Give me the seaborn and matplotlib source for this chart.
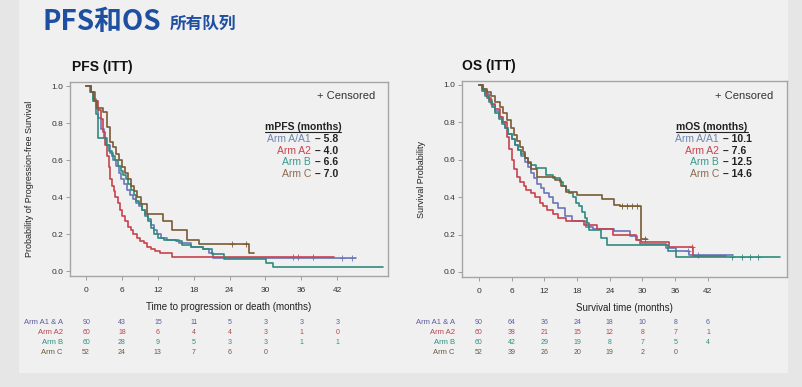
import numpy as np
import pandas as pd
import seaborn as sns
import matplotlib.pyplot as plt
from matplotlib.lines import Line2D
from matplotlib.patches import Rectangle
from matplotlib import transforms

# Arms and colours
arms = ["Arm A/A1", "Arm A2", "Arm B", "Arm C"]
risk_labels = ["Arm A1 & A", "Arm A2", "Arm B", "Arm C"]
line_colors = ["#6a76b8", "#c8434f", "#2e8b7e", "#7a5b34"]
text_colors = ["#6d86b2", "#c8434f", "#3a9a8e", "#8a6a50"]
risk_colors = ["#5c5c9c", "#b84450", "#2f8f80", "#6b5a3a"]

# PFS step curves (time in months, survival)
pfs_t_a = [0, 0.8, 1.2, 1.6, 2.0, 2.5, 3.0, 3.5, 4.0, 4.5, 5.0, 5.5, 5.8, 6.3, 6.8, 7.3,
           7.8, 8.3, 8.8, 9.3, 9.8, 10.3, 10.8, 11.3, 11.8, 12.5, 13.5, 15.6, 17.5, 19.6,
           20.5, 21.3, 45.2]
pfs_s_a = [1.0, 0.97, 0.93, 0.88, 0.83, 0.77, 0.72, 0.68, 0.64, 0.60, 0.57, 0.53, 0.50,
           0.47, 0.44, 0.41, 0.39, 0.37, 0.35, 0.33, 0.31, 0.28, 0.25, 0.22, 0.20, 0.18,
           0.17, 0.15, 0.13, 0.12, 0.10, 0.072, 0.072]
pfs_t_a2 = [0, 0.8, 1.5, 2.0, 2.5, 2.9, 3.2, 3.5, 3.8, 4.0, 4.3, 4.6, 4.9, 5.3, 5.7, 6.0,
            6.5, 7.0, 7.5, 7.9, 8.5, 9.0, 9.6, 10.2, 10.9, 11.6, 12.4, 14.3, 41.5]
pfs_s_a2 = [1.0, 0.97, 0.92, 0.87, 0.82, 0.75, 0.68, 0.62, 0.56, 0.50, 0.46, 0.43, 0.40,
            0.37, 0.33, 0.30, 0.27, 0.24, 0.22, 0.20, 0.18, 0.16, 0.15, 0.13, 0.12, 0.11,
            0.10, 0.077, 0.077]
pfs_t_b = [0, 0.7, 1.2, 1.6, 2.0, 3.3, 3.8, 4.3, 4.8, 5.3, 5.8, 6.2, 6.6, 7.0, 7.5, 8.0,
           8.4, 8.9, 9.4, 9.9, 10.4, 10.9, 11.4, 12.0, 13.0, 15.0, 16.0, 17.5, 19.5, 21.0,
           23.0, 30.1, 31.3, 49.6]
pfs_s_b = [1.0, 0.97, 0.92, 0.85, 0.72, 0.68, 0.65, 0.62, 0.60, 0.57, 0.54, 0.52, 0.50,
           0.47, 0.44, 0.41, 0.38, 0.36, 0.33, 0.30, 0.27, 0.23, 0.20, 0.18, 0.17, 0.16,
           0.14, 0.13, 0.12, 0.09, 0.065, 0.045, 0.023, 0.023]
pfs_t_c = [0, 0.8, 1.3, 1.8, 2.9, 3.5, 4.0, 4.5, 5.0, 5.5, 6.0, 6.5, 7.0, 7.5, 8.0, 8.5,
           9.2, 10.2, 12.9, 14.3, 16.9, 18.8, 27.3, 28.1]
pfs_s_c = [1.0, 0.97, 0.92, 0.88, 0.86, 0.78, 0.70, 0.67, 0.63, 0.60, 0.56, 0.53, 0.50,
           0.46, 0.43, 0.40, 0.36, 0.31, 0.27, 0.22, 0.17, 0.146, 0.10, 0.10]

# OS step curves
os_t_a = [0, 0.6, 1.2, 1.8, 2.4, 3.0, 3.6, 4.2, 4.8, 5.4, 6.0, 6.6, 7.2, 7.8, 8.4, 9.0,
          9.5, 10.1, 10.7, 11.3, 12.0, 12.8, 13.5, 14.5, 15.7, 17.0, 19.6, 21.0, 24.7,
          27.8, 29.0, 29.5, 34.4, 36.2, 38.5, 46.6]
os_s_a = [1.0, 0.98, 0.95, 0.92, 0.89, 0.86, 0.83, 0.80, 0.77, 0.74, 0.71, 0.68, 0.65,
          0.62, 0.59, 0.56, 0.53, 0.50, 0.47, 0.45, 0.42, 0.40, 0.37, 0.34, 0.30, 0.27,
          0.24, 0.23, 0.22, 0.19, 0.17, 0.15, 0.13, 0.11, 0.09, 0.09]
os_t_a2 = [0, 0.8, 1.5, 2.2, 3.0, 3.8, 4.5, 5.1, 5.5, 6.0, 6.5, 6.9, 7.6, 8.2, 8.7, 9.5,
           10.3, 11.2, 11.8, 12.4, 13.5, 14.5, 16.0, 19.3, 21.6, 24.6, 28.9, 29.7, 34.9,
           39.2, 45.4]
os_s_a2 = [1.0, 0.97, 0.93, 0.90, 0.87, 0.83, 0.80, 0.72, 0.66, 0.60, 0.55, 0.51, 0.48,
           0.46, 0.44, 0.42, 0.40, 0.37, 0.35, 0.33, 0.31, 0.29, 0.27, 0.25, 0.23, 0.20,
           0.17, 0.16, 0.135, 0.087, 0.087]
os_t_b = [0, 0.6, 1.2, 1.8, 2.4, 3.0, 3.6, 4.2, 4.8, 5.4, 6.0, 6.6, 7.2, 7.8, 8.4, 9.0,
          9.6, 10.4, 12.3, 13.5, 14.8, 15.5, 16.0, 16.6, 17.2, 17.8, 18.4, 18.9, 19.4,
          19.8, 20.2, 22.3, 23.5, 34.6, 36.2, 55.2]
os_s_b = [1.0, 0.97, 0.94, 0.91, 0.88, 0.85, 0.82, 0.79, 0.77, 0.74, 0.71, 0.68, 0.65,
          0.63, 0.61, 0.59, 0.57, 0.555, 0.52, 0.50, 0.48, 0.46, 0.44, 0.42, 0.40, 0.37,
          0.35, 0.32, 0.29, 0.26, 0.225, 0.18, 0.145, 0.11, 0.082, 0.082]
os_t_c = [0, 0.8, 1.5, 2.2, 3.0, 3.8, 4.5, 5.2, 5.9, 6.5, 7.0, 7.5, 8.0, 8.5, 9.0, 9.6,
          10.6, 13.9, 15.1, 16.0, 17.9, 22.5, 24.7, 25.8, 29.7, 30.8]
os_s_c = [1.0, 0.98, 0.96, 0.94, 0.91, 0.88, 0.85, 0.81, 0.77, 0.73, 0.70, 0.67, 0.64,
          0.61, 0.58, 0.55, 0.51, 0.49, 0.46, 0.43, 0.41, 0.39, 0.36, 0.35, 0.176, 0.176]

# Censor times
pfs_cens = [[42.8, 44.5], [34.6, 35.5, 38.0], [], [24.4, 26.8]]
os_cens = [[38.4, 40.2], [39.0], [46.4, 48.2, 49.7, 51.2], [26.2, 27.1, 28.0, 29.0, 30.5]]

# Medians
pfs_median = ["5.8", "4.0", "6.6", "7.0"]
os_median = ["10.1", "7.6", "12.5", "14.6"]

# Number at risk
time_ticks = [0, 6, 12, 18, 24, 30, 36, 42]
pfs_risk = [[90, 43, 15, 11, 5, 3, 3, 3],
            [60, 18, 6, 4, 4, 3, 1, 0],
            [60, 28, 9, 5, 3, 3, 1, 1],
            [52, 24, 13, 7, 6, 0]]
os_risk = [[90, 64, 36, 24, 18, 10, 8, 6],
           [60, 38, 21, 15, 12, 8, 7, 1],
           [60, 42, 29, 19, 8, 7, 5, 4],
           [52, 39, 26, 20, 19, 2, 0]]

sns.set_style("white")
plt.rcParams["font.family"] = ["Liberation Sans", "DejaVu Sans"]

W, H = 803, 387
fig = plt.figure(figsize=(W / 100, H / 100), dpi=100, facecolor="#e6e6e6")
fig.add_artist(Rectangle((19 / W, 1 - 373 / H), (788 - 19) / W, 373 / H,
                         transform=fig.transFigure, facecolor="#f0f0f0", edgecolor="none", zorder=0))


def px(x, y):
    return x / W, 1 - y / H


# Title
fig.text(*px(43, 22), "PFS和OS", fontsize=20, fontweight="bold", color="#1f4fa0",
         family=["Noto Sans CJK SC", "DejaVu Sans"], va="center")
fig.text(*px(170, 24), "所有队列", fontsize=12, fontweight="bold", color="#1f4fa0",
         family=["Noto Sans CJK SC", "DejaVu Sans"], va="center")


def make_df(times, survs):
    rows = []
    for arm, t, s in zip(arms, times, survs):
        rows.append(pd.DataFrame({"time": t, "surv": s, "arm": arm}))
    return pd.concat(rows, ignore_index=True)


def draw_panel(rect, times, survs, cens, xlim, ylim, title, title_xy, ylabel, xlabel,
               head, medians, cens_xy, head_xy, split_x, risk, label_x):
    ax = fig.add_axes(rect)
    ax.set_facecolor("#f0f0f0")
    df = make_df(times, survs)
    sns.lineplot(data=df, x="time", y="surv", hue="arm", palette=line_colors,
                 estimator=None, sort=False, drawstyle="steps-post", linewidth=1.2,
                 legend=False, ax=ax)
    # censor marks
    for i in range(4):
        t = np.array(times[i])
        s = np.array(survs[i])
        if cens[i]:
            c = np.array(cens[i])
            cy = s[np.searchsorted(t, c, side="right") - 1]
            sns.scatterplot(x=c, y=cy, marker="+", s=14, color=line_colors[i],
                            linewidth=0.6, ax=ax, legend=False)
    ax.set_xlim(*xlim)
    ax.set_ylim(*ylim)
    ax.set_xticks(time_ticks)
    ax.set_yticks([0, 0.2, 0.4, 0.6, 0.8, 1.0])
    ax.set_yticklabels(["0.0", "0.2", "0.4", "0.6", "0.8", "1.0"])
    ax.tick_params(axis="both", direction="out", length=3, width=0.6, color="#909090",
                   labelsize=6, labelcolor="#333333", pad=2, bottom=True, left=True)
    ax.tick_params(axis="x", pad=5)
    for sp in ax.spines.values():
        sp.set_color("#a5a5a5")
        sp.set_linewidth(1.0)
    ax.set_xlabel(xlabel, fontsize=7, color="#222222", labelpad=6)
    ax.set_ylabel(ylabel, fontsize=6.5, color="#222222", labelpad=12.5)
    fig.text(*px(*title_xy), title, fontsize=10, fontweight="bold", color="#111111", va="center")

    # legend text
    fig.text(*px(*cens_xy), "+ Censored", fontsize=8, color="#333333", ha="right", va="center")
    ht = fig.text(*px(*head_xy), head, fontsize=7.5, fontweight="bold", color="#222222",
                  ha="center", va="center")
    for i in range(4):
        y = head_xy[1] + 11.8 * (i + 1)
        fig.text(*px(split_x, y), arms[i], fontsize=7.5, color=text_colors[i], ha="right", va="center")
        fig.text(*px(split_x + 1, y), " – " + medians[i], fontsize=7.5, fontweight="bold",
                 color="#222222", ha="left", va="center")
    fig.canvas.draw()
    bb = ht.get_window_extent()
    fig.add_artist(Line2D([bb.x0 / W, bb.x1 / W], [(bb.y0 + 0.5) / H] * 2,
                          transform=fig.transFigure, color="#222222", linewidth=0.8))

    # number at risk
    trans = transforms.blended_transform_factory(ax.transData, fig.transFigure)
    for i in range(4):
        y = 1 - (322 + 10 * i) / H
        fig.text(label_x / W, y, risk_labels[i], fontsize=5.5, color=risk_colors[i],
                 ha="right", va="center")
        for tt, n in zip(time_ticks, risk[i]):
            ax.text(tt, y, str(n), transform=trans, fontsize=5, color=risk_colors[i],
                    ha="center", va="center", clip_on=False)
    return ax


draw_panel([70 / W, 1 - 276 / H, 318 / W, 194 / H],
           [pfs_t_a, pfs_t_a2, pfs_t_b, pfs_t_c],
           [pfs_s_a, pfs_s_a2, pfs_s_b, pfs_s_c], pfs_cens,
           (-2.7, 50.5), (-0.027, 1.022), "PFS (ITT)", (72, 67),
           "Probability of Progression-free Survival", "Time to progression or death (months)",
           "mPFS (months)", pfs_median, (375, 96), (303, 127), 311, pfs_risk, 63)

draw_panel([462 / W, 1 - 277 / H, 325 / W, 196 / H],
           [os_t_a, os_t_a2, os_t_b, os_t_c],
           [os_s_a, os_s_a2, os_s_b, os_s_c], os_cens,
           (-3.1, 56.5), (-0.027, 1.021), "OS (ITT)", (462, 66),
           "Survival Probability", "Survival time (months)",
           "mOS (months)", os_median, (773, 96), (712, 127), 719, os_risk, 455)

fig.savefig("out.png", dpi=100, facecolor=fig.get_facecolor())
